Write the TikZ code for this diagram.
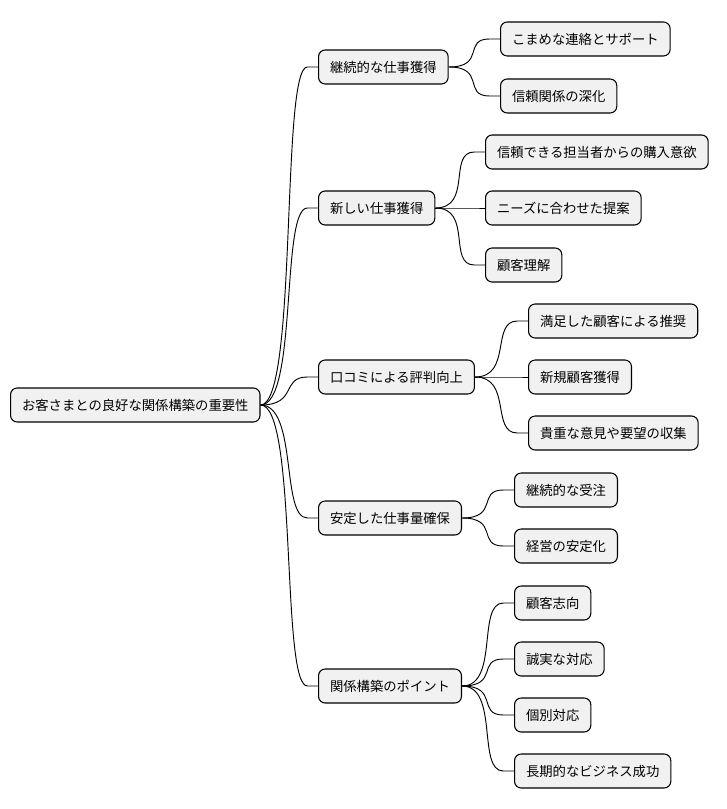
\documentclass[tikz,border=0pt]{standalone}
\usepackage{fontspec}
\setmainfont{Noto Sans CJK JP}
\begin{document}
\begin{tikzpicture}[x=0.75pt,y=-0.75pt,
  box/.style={draw=black,fill=black!5.5,rounded corners=5pt,line width=0.8pt,
    font=\fontsize{10}{12}\selectfont,inner xsep=8.6pt,minimum height=25.5pt,anchor=west},
  link/.style={draw=black,line width=0.7pt}]
\useasboundingbox (0,0) rectangle (726,809);
\node[box] (r) at (10,405) {お客さまとの良好な関係構築の重要性};
\node[box] (a) at (318,67) {継続的な仕事獲得};
\node[box] (b) at (318,208) {新しい仕事獲得};
\node[box] (c) at (318,377) {口コミによる評判向上};
\node[box] (d) at (318,518) {安定した仕事量確保};
\node[box] (e) at (318,686) {関係構築のポイント};
\node[box] (a1) at (500,39) {こまめな連絡とサポート};
\node[box] (a2) at (500,96) {信頼関係の深化};
\node[box] (b1) at (485,152) {信頼できる担当者からの購入意欲};
\node[box] (b2) at (485,208) {ニーズに合わせた提案};
\node[box] (b3) at (485,265) {顧客理解};
\node[box] (c1) at (528,321) {満足した顧客による推奨};
\node[box] (c2) at (528,377) {新規顧客獲得};
\node[box] (c3) at (528,433) {貴重な意見や要望の収集};
\node[box] (d1) at (514,490) {継続的な受注};
\node[box] (d2) at (514,546) {経営の安定化};
\node[box] (e1) at (514,603) {顧客志向};
\node[box] (e2) at (514,659) {誠実な対応};
\node[box] (e3) at (514,715) {個別対応};
\node[box] (e4) at (514,771) {長期的なビジネス成功};
\foreach \p/\c in {r/a,r/b,r/c,r/d,r/e,a/a1,a/a2,b/b1,b/b2,b/b3,c/c1,c/c2,c/c3,d/d1,d/d2,e/e1,e/e2,e/e3,e/e4}{
  \draw[link] (\p.east) .. controls ([xshift=28pt]\p.east) and ([xshift=-28pt]\c.west) .. ([xshift=-8pt]\c.west) -- (\c.west);
}
\end{tikzpicture}
\end{document}
